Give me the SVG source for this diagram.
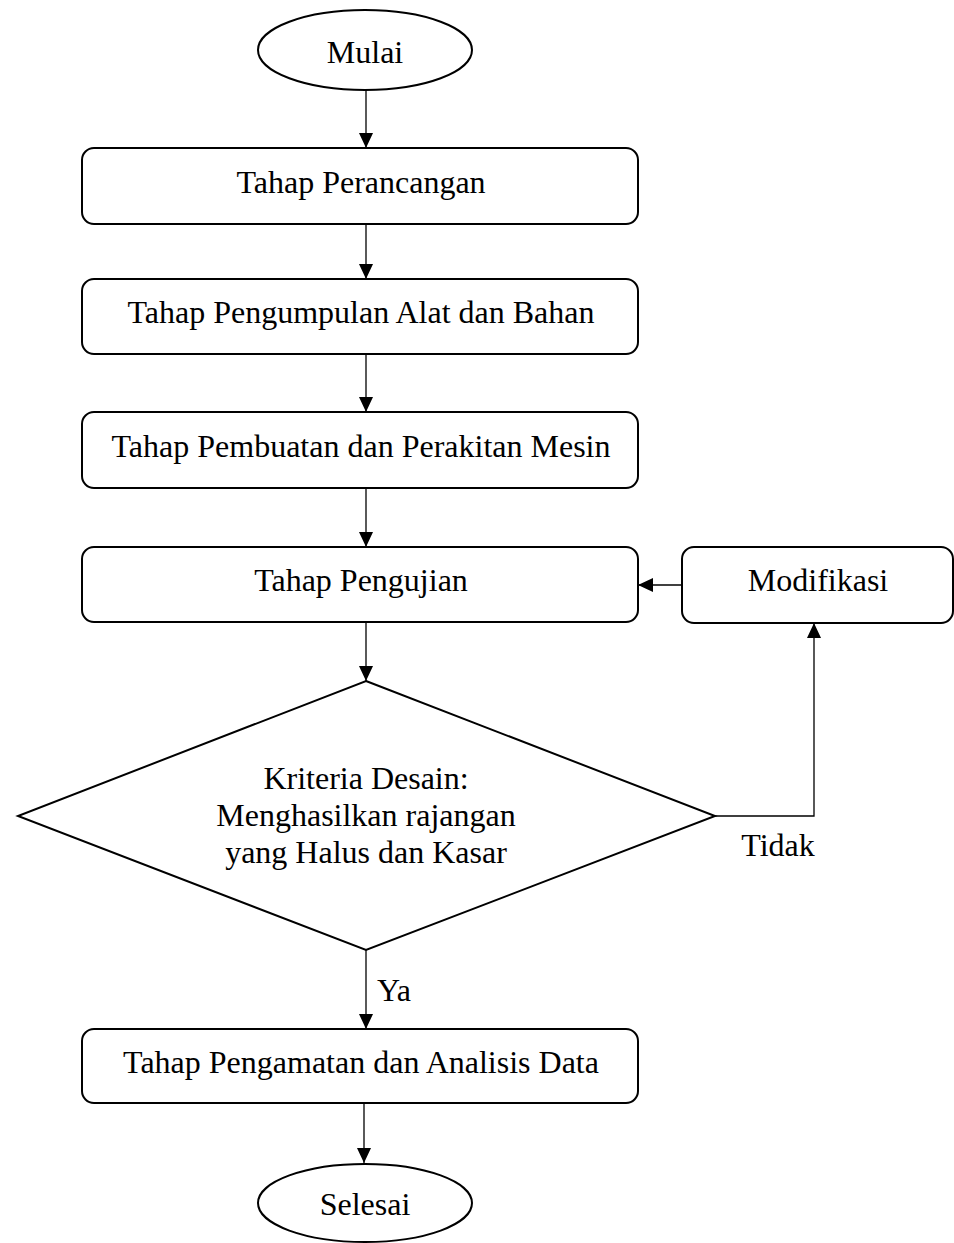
<svg xmlns="http://www.w3.org/2000/svg" width="954" height="1243" viewBox="0 0 954 1243">
<defs>
<style>
.n{fill:#fff;stroke:#000;stroke-width:2}
.t{font-family:"Liberation Serif","Times New Roman",serif;font-size:32px;fill:#000;text-anchor:middle}
.c{fill:none;stroke:#000;stroke-width:1.3}
.h{fill:#000;stroke:none}
</style>
</defs>
<rect width="954" height="1243" fill="#fff"/>
<g id="connectors">
<path class="c" d="M366,90 V148"/>
<path class="h" d="M359,133 L373,133 L366,148 z"/>
<path class="c" d="M366,224 V279"/>
<path class="h" d="M359,264 L373,264 L366,279 z"/>
<path class="c" d="M366,354 V412"/>
<path class="h" d="M359,397 L373,397 L366,412 z"/>
<path class="c" d="M366,488 V547"/>
<path class="h" d="M359,532 L373,532 L366,547 z"/>
<path class="c" d="M366,622 V681"/>
<path class="h" d="M359,666 L373,666 L366,681 z"/>
<path class="c" d="M682,585 H638"/>
<path class="h" d="M653,578 L653,592 L638,585 z"/>
<path class="c" d="M715,816 H814 V623"/>
<path class="h" d="M807,638 L821,638 L814,623 z"/>
<path class="c" d="M366,950 V1029"/>
<path class="h" d="M359,1014 L373,1014 L366,1029 z"/>
<path class="c" d="M364,1103 V1163"/>
<path class="h" d="M357,1148 L371,1148 L364,1163 z"/>
<text class="t" x="778" y="856">Tidak</text>
<text class="t" x="394" y="1001">Ya</text>
</g>
<g id="mulai">
<ellipse class="n" cx="365" cy="50" rx="107" ry="40"/>
<text class="t" x="365" y="63">Mulai</text>
</g>
<g id="perancangan">
<rect class="n" x="82" y="148" width="556" height="76" rx="12"/>
<text class="t" x="361" y="193">Tahap Perancangan</text>
</g>
<g id="pengumpulan">
<rect class="n" x="82" y="279" width="556" height="75" rx="12"/>
<text class="t" x="361" y="323">Tahap Pengumpulan Alat dan Bahan</text>
</g>
<g id="pembuatan">
<rect class="n" x="82" y="412" width="556" height="76" rx="12"/>
<text class="t" x="361" y="457">Tahap Pembuatan dan Perakitan Mesin</text>
</g>
<g id="pengujian">
<rect class="n" x="82" y="547" width="556" height="75" rx="12"/>
<text class="t" x="361" y="591">Tahap Pengujian</text>
</g>
<g id="modifikasi">
<rect class="n" x="682" y="547" width="271" height="76" rx="12"/>
<text class="t" x="818" y="591">Modifikasi</text>
</g>
<g id="kriteria">
<polygon class="n" points="366,681 715,816 366,950 18,816"/>
<text class="t" x="366" y="789">Kriteria Desain:</text>
<text class="t" x="366" y="826">Menghasilkan rajangan</text>
<text class="t" x="366" y="863">yang Halus dan Kasar</text>
</g>
<g id="pengamatan">
<rect class="n" x="82" y="1029" width="556" height="74" rx="12"/>
<text class="t" x="361" y="1073">Tahap Pengamatan dan Analisis Data</text>
</g>
<g id="selesai">
<ellipse class="n" cx="365" cy="1203" rx="107" ry="39"/>
<text class="t" x="365" y="1215">Selesai</text>
</g>
</svg>
